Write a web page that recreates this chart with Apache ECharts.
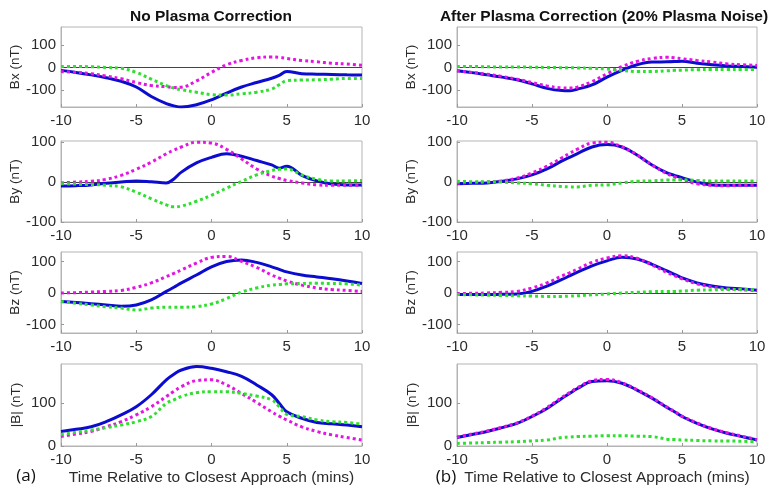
<!DOCTYPE html>
<html>
<head>
<meta charset="utf-8">
<script src="https://cdn.jsdelivr.net/npm/echarts@6/dist/echarts.min.js"></script>
<style>
html,body{margin:0;padding:0;background:#fff;}
#chart{width:779px;height:492px;}
</style>
</head>
<body>
<div id="chart"></div>
<script>
// Time (mins) relative to closest approach
const t = [-10,-9,-8,-7,-6,-5,-4,-3,-2.5,-2,-1,0,1,2,3,4,4.5,5,6,7,8,9,10];

// (a) No Plasma Correction
const bxL_blue  = [-13,-22,-33,-46,-62,-87,-129,-161,-171,-176,-166,-144,-114,-87,-67,-48,-35,-18,-28,-30,-31,-33,-34];
const bxL_mag   = [-18,-22,-28,-38,-50,-67,-80,-86,-89,-88,-60,-22,12,31,43,47,45,40,31,25,19,15,10];
const bxL_green = [4,4,3,0,-4,-22,-52,-81,-92,-99,-110,-121,-123,-117,-110,-96,-77,-59,-56,-55,-52,-49,-49];

const byL_blue  = [-10,-9,-7,-3,0,3,1,-2,8,25,48,62,71,65,54,43,35,40,17,3,-5,-7,-7];
const byL_mag   = [-2,0,2,7,17,32,50,71,80,88,100,98,82,58,33,15,9,4,-2,-7,-8,-8,-8];
const byL_green = [-4,-5,-6,-8,-12,-25,-42,-57,-62,-60,-48,-33,-15,2,18,29,32,33,18,7,3,3,4];

const bzL_blue  = [-27,-30,-34,-38,-42,-38,-22,5,18,32,57,83,100,105,97,83,75,67,57,51,45,38,30];
const bzL_mag   = [0,1,3,5,8,18,32,52,62,73,95,113,116,100,81,57,47,38,25,16,11,8,5];
const bzL_green = [-27,-33,-38,-44,-48,-54,-48,-45,-45,-45,-43,-35,-18,3,16,25,27,29,30,31,30,29,25];

const bL_blue   = [34,39,45,57,73,92,120,155,168,178,186,182,174,163,143,120,100,80,65,55,52,49,45];
const bL_mag    = [22,28,34,45,57,73,92,116,128,139,153,155,143,123,102,80,70,61,45,34,26,20,14];
const bL_green  = [27,32,37,43,49,57,69,100,108,116,125,127,127,123,117,108,92,74,69,61,57,55,51];

// (b) After Plasma Correction (20% Plasma Noise)
const bxR_blue  = [-15,-23,-33,-43,-55,-73,-93,-103,-104,-97,-78,-43,-13,12,24,25,26,28,19,12,7,4,1];
const bxR_mag   = [-15,-22,-30,-40,-52,-67,-82,-91,-92,-88,-63,-28,4,27,40,45,43,39,31,24,16,12,9];
const bxR_green = [4,4,3,2,2,1,0,-1,-1,-2,-4,-7,-13,-18,-18,-15,-13,-12,-10,-9,-9,-9,-9];

const byR_blue  = [-4,-3,-2,2,8,18,33,53,62,71,88,94,88,68,43,23,17,11,0,-7,-8,-8,-8];
const byR_mag   = [-3,-1,0,3,10,23,40,61,72,82,98,100,88,68,43,21,13,6,-4,-8,-9,-8,-8];
const byR_green = [2,1,1,0,-2,-4,-8,-11,-12,-12,-8,-7,-2,2,3,5,5,6,4,3,3,3,3];

const bzR_blue  = [-5,-5,-5,-4,-3,5,22,43,54,65,86,102,113,108,91,70,59,48,32,22,16,13,9];
const bzR_mag   = [-2,-1,0,2,5,16,32,54,64,75,97,111,118,110,89,65,55,45,29,19,13,10,8];
const bzR_green = [-5,-6,-7,-8,-9,-10,-11,-11,-10,-9,-6,-3,0,2,4,5,5,6,9,10,11,11,11];

const bR_blue   = [20,27,34,43,53,69,88,112,123,134,151,153,147,131,112,90,80,69,53,40,30,22,14];
const bR_mag    = [21,28,35,44,54,70,90,114,125,136,153,156,148,132,113,91,81,70,54,41,31,23,15];
const bR_green  = [6,7,8,9,10,12,14,20,21,22,23,24,24,23,22,16,15,14,13,12,12,11,10];

const yNames = ['Bx (nT)','By (nT)','Bz (nT)','|B| (nT)'];
const yRanges = [[-176,180],[-100,103],[-127,130],[0,192]];
const yTicks = [[-100,0,100],[-100,0,100],[-100,0,100],[0,100]];
const titles = ['No Plasma Correction','After Plasma Correction (20% Plasma Noise)'];
const panelTags = ['(a)','(b)'];
const xName = 'Time Relative to Closest Approach (mins)';

const panels = [
  [[bxL_blue,bxL_mag,bxL_green],[byL_blue,byL_mag,byL_green],[bzL_blue,bzL_mag,bzL_green],[bL_blue,bL_mag,bL_green]],
  [[bxR_blue,bxR_mag,bxR_green],[byR_blue,byR_mag,byR_green],[bzR_blue,bzR_mag,bzR_green],[bR_blue,bR_mag,bR_green]]
];

const colLeft = [61, 457], colWidth = [301, 300];
const rowTop = [27, 141, 252, 364], rowH = [80, 81, 81, 82];
const FONT = '"Liberation Sans", Arial, Helvetica, sans-serif';
const TXT = '#2b2b2b';
const BLUE = '#0c0cd0', MAG = '#e414e4', GREEN = '#2ee02e';

const grid = [], xAxis = [], yAxis = [], series = [];
let gi = 0;
for (let c = 0; c < 2; c++) {
  for (let r = 0; r < 4; r++) {
    grid.push({left: colLeft[c], top: rowTop[r], width: colWidth[c], height: rowH[r],
      show: true, borderColor: '#b4b4b4', borderWidth: 1, backgroundColor: '#fff'});
    xAxis.push({
      type: 'value', gridIndex: gi, min: -10, max: 10, interval: 5,
      axisLine: {show: true, onZero: false, lineStyle: {color: '#b4b4b4'}},
      axisTick: {show: true, inside: true, length: 3, lineStyle: {color: '#999'}},
      axisLabel: {color: TXT, fontSize: 15, fontFamily: FONT, margin: 6},
      splitLine: {show: false},
      name: r === 3 ? xName : '', nameLocation: 'middle', nameGap: 24,
      nameTextStyle: {color: TXT, fontSize: 15.5, fontFamily: FONT}
    });
    yAxis.push({
      type: 'value', gridIndex: gi, min: yRanges[r][0], max: yRanges[r][1],
      axisLine: {show: true, onZero: false, lineStyle: {color: '#b4b4b4'}},
      axisTick: {show: true, inside: true, length: 3, customValues: yTicks[r], lineStyle: {color: '#999'}},
      axisLabel: {color: TXT, fontSize: 15, fontFamily: FONT, margin: 5, customValues: yTicks[r]},
      splitLine: {show: false},
      name: yNames[r], nameLocation: 'middle', nameRotate: 90, nameGap: 38,
      nameTextStyle: {color: TXT, fontSize: 13.5, fontFamily: FONT}
    });
    const d = panels[c][r];
    const mk = (arr) => t.map((x, i) => [x, arr[i]]);
    series.push({
      type: 'line', xAxisIndex: gi, yAxisIndex: gi, data: mk(d[0]), smooth: 0.4,
      showSymbol: false, symbol: 'none', lineStyle: {color: BLUE, width: 3}, z: 3,
      markLine: r < 3 ? {silent: true, symbol: 'none', label: {show: false},
        lineStyle: {color: '#444', width: 1, type: 'solid'}, data: [{yAxis: 0}], z: 1} : undefined
    });
    series.push({
      type: 'line', xAxisIndex: gi, yAxisIndex: gi, data: mk(d[1]), smooth: 0.4,
      showSymbol: false, symbol: 'none', lineStyle: {color: MAG, width: 3, type: [3, 3], cap: 'butt'}, z: 4
    });
    series.push({
      type: 'line', xAxisIndex: gi, yAxisIndex: gi, data: mk(d[2]), smooth: 0.4,
      showSymbol: false, symbol: 'none', lineStyle: {color: GREEN, width: 3, type: [3, 3], cap: 'butt'}, z: 4
    });
    gi++;
  }
}

const chart = echarts.init(document.getElementById('chart'), null, {renderer: 'canvas'});
chart.setOption({
  animation: false,
  backgroundColor: '#fff',
  grid, xAxis, yAxis, series,
  graphic: [
    {type: 'text', x: 211, y: 17, style: {text: titles[0], font: 'bold 15.5px ' + FONT, fill: '#111', align: 'center', verticalAlign: 'middle'}},
    {type: 'text', x: 604, y: 17, style: {text: titles[1], font: 'bold 15.5px ' + FONT, fill: '#111', align: 'center', verticalAlign: 'middle'}},
    {type: 'text', x: 26, y: 476, style: {text: panelTags[0], font: '17px "Open Sans", "Noto Sans", sans-serif', fill: '#111', align: 'center', verticalAlign: 'middle'}},
    {type: 'text', x: 446, y: 477, style: {text: panelTags[1], font: '17px "Open Sans", "Noto Sans", sans-serif', fill: '#111', align: 'center', verticalAlign: 'middle'}}
  ]
});
</script>
</body>
</html>
